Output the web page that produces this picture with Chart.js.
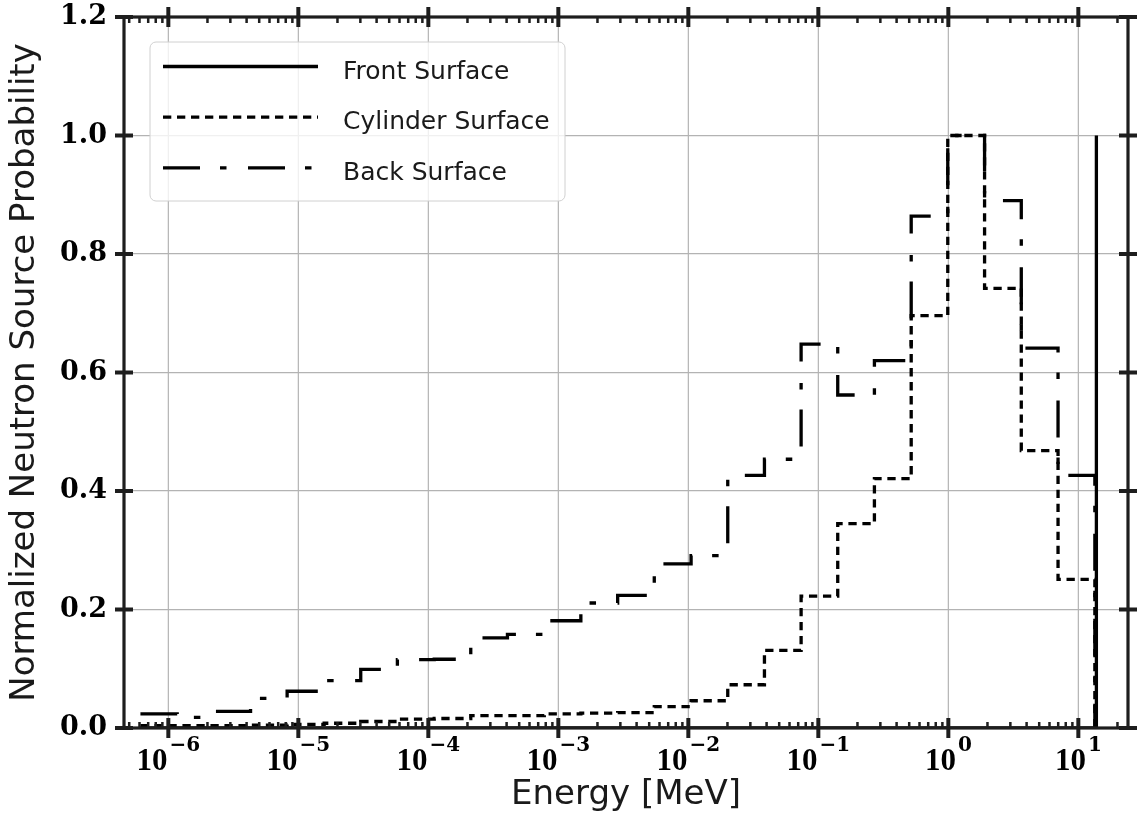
<!DOCTYPE html>
<html>
<head>
<meta charset="utf-8">
<title>Neutron source energy spectrum</title>
<script src="https://cdn.jsdelivr.net/npm/chart.js@4.4.1/dist/chart.umd.min.js"></script>
<style>
  body { margin: 0; background: #fff; }
  canvas { display: block; }
</style>
</head>
<body>
<canvas id="spectrum" width="1138" height="828"></canvas>
<script>
// energy group boundaries [MeV]
const binEdges = [6.1e-7, 1.17e-6, 2.24e-6, 4.29e-6, 8.2e-6, 1.58e-5, 3.02e-5, 5.78e-5,
  1.11e-4, 2.12e-4, 4.06e-4, 7.8e-4, 1.49e-3, 2.86e-3, 5.47e-3, 1.05e-2, 2.01e-2,
  3.85e-2, 7.37e-2, 0.141, 0.27, 0.518, 0.99, 1.9, 3.64, 6.98, 13.4];

// normalized source probability per group
const cylinderProb = [0.004, 0.004, 0.004, 0.005, 0.006, 0.008, 0.011, 0.015, 0.016,
  0.021, 0.021, 0.024, 0.025, 0.026, 0.036, 0.046, 0.073, 0.131, 0.2225, 0.345,
  0.421, 0.696, 1.0, 0.742, 0.468, 0.251];
const backProb = [0.024, 0.018, 0.028, 0.050, 0.062, 0.080, 0.099, 0.1155, 0.116,
  0.152, 0.158, 0.181, 0.211, 0.224, 0.277, 0.291, 0.4265, 0.4536, 0.648, 0.562,
  0.62, 0.864, 1.0, 0.89, 0.641, 0.4265];

// front surface only sees the 14 MeV source line
const frontEdges = [6.1e-7, 13.7, 13.8];
const frontProb = [0, 1.0];

// axis ticks
const xTickExponents = [-6, -5, -4, -3, -2, -1, 0, 1];
const yTickValues = [0, 0.2, 0.4, 0.6, 0.8, 1.0, 1.2];

const gridColor = '#b3b3b3';
const spineColor = '#1e1e1e';
const textColor = '#1a1a1a';

// step outline of a group-wise histogram, dropping to zero after the last group
function histLine(edges, probs) {
  const pts = [];
  probs.forEach((p, i) => {
    pts.push({ x: edges[i], y: p });
    pts.push({ x: edges[i + 1], y: p });
  });
  pts.push({ x: edges[edges.length - 1], y: 0 });
  return pts;
}

const series = [
  { label: 'Front Surface', data: histLine(frontEdges, frontProb), dash: [] },
  { label: 'Cylinder Surface', data: histLine(binEdges, cylinderProb), dash: [8.3, 5.7] },
  { label: 'Back Surface', data: histLine(binEdges, backProb), dash: [37, 20, 6.5, 21.5] }
];

function drawLegend(ctx, area) {
  const x0 = area.left + 26, y0 = area.top + 25, w = 415, h = 159;
  ctx.save();
  ctx.beginPath();
  ctx.roundRect(x0, y0, w, h, 6);
  ctx.fillStyle = 'rgba(255,255,255,0.8)';
  ctx.fill();
  ctx.lineWidth = 1;
  ctx.strokeStyle = '#d0d0d0';
  ctx.stroke();

  ctx.font = '25px "DejaVu Sans"';
  ctx.fillStyle = textColor;
  ctx.textBaseline = 'alphabetic';
  series.forEach((s, i) => {
    const ly = y0 + 24.5 + i * 50.7;
    ctx.beginPath();
    ctx.setLineDash(s.dash);
    ctx.lineWidth = 3.3;
    ctx.strokeStyle = '#000';
    ctx.moveTo(x0 + 13, ly);
    ctx.lineTo(x0 + 168, ly);
    ctx.stroke();
    ctx.setLineDash([]);
    ctx.fillText(s.label, x0 + 193, ly + 12);
  });
  ctx.restore();
}

const frame = {
  id: 'frame',
  beforeDatasetsDraw(chart) {
    const { ctx, chartArea: a, scales: { x } } = chart;
    ctx.save();
    ctx.strokeStyle = gridColor;
    ctx.lineWidth = 1.2;
    xTickExponents.forEach(e => {
      const px = x.getPixelForValue(Math.pow(10, e));
      ctx.beginPath();
      ctx.moveTo(px, a.top);
      ctx.lineTo(px, a.bottom);
      ctx.stroke();
    });
    ctx.restore();
  },
  afterDatasetsDraw(chart) {
    const { ctx, chartArea: a, scales: { x, y } } = chart;
    drawLegend(ctx, a);

    ctx.save();
    ctx.strokeStyle = spineColor;

    // minor x ticks, pointing inward on top and bottom
    ctx.lineWidth = 2.5;
    const lo = Math.floor(Math.log10(x.min)), hi = Math.floor(Math.log10(x.max));
    for (let e = lo; e <= hi; e++) {
      for (let m = 2; m <= 9; m++) {
        const v = m * Math.pow(10, e);
        if (v < x.min || v > x.max) continue;
        const px = x.getPixelForValue(v);
        ctx.beginPath();
        ctx.moveTo(px, a.bottom); ctx.lineTo(px, a.bottom - 6);
        ctx.moveTo(px, a.top); ctx.lineTo(px, a.top + 6);
        ctx.stroke();
      }
    }

    // spines
    ctx.lineWidth = 3.2;
    ctx.strokeRect(a.left, a.top, a.right - a.left, a.bottom - a.top);

    // major ticks straddle the spines
    ctx.lineWidth = 4;
    xTickExponents.forEach(e => {
      const px = x.getPixelForValue(Math.pow(10, e));
      ctx.beginPath();
      ctx.moveTo(px, a.bottom - 10); ctx.lineTo(px, a.bottom + 10);
      ctx.moveTo(px, a.top - 10); ctx.lineTo(px, a.top + 10);
      ctx.stroke();
    });
    yTickValues.forEach(v => {
      const py = y.getPixelForValue(v);
      ctx.beginPath();
      ctx.moveTo(a.left - 9, py); ctx.lineTo(a.left + 9, py);
      ctx.moveTo(a.right - 9, py); ctx.lineTo(a.right + 9, py);
      ctx.stroke();
    });

    // decade labels with raised exponents
    ctx.fillStyle = '#000';
    ctx.textBaseline = 'alphabetic';
    ctx.textAlign = 'left';
    const baseFont = 'bold 31px "Liberation Serif"';
    const expFont = 'bold 20px "DejaVu Serif"';
    xTickExponents.forEach(e => {
      const px = x.getPixelForValue(Math.pow(10, e));
      const expText = String(e).replace('-', '\u2212');
      ctx.font = baseFont;
      const bw = ctx.measureText('10').width;
      ctx.font = expFont;
      const ew = ctx.measureText(expText).width;
      const left = px - (bw + 2 + ew) / 2;
      ctx.font = baseFont;
      ctx.fillText('10', left, a.bottom + 42);
      ctx.font = expFont;
      ctx.fillText(expText, left + bw + 2, a.bottom + 23);
    });
    ctx.restore();
  }
};

new Chart(document.getElementById('spectrum'), {
  type: 'line',
  data: {
    datasets: series.map(s => ({
      label: s.label,
      data: s.data,
      borderColor: '#000',
      borderWidth: 3.3,
      borderDash: s.dash,
      borderCapStyle: 'butt',
      pointRadius: 0,
      tension: 0,
      fill: false
    }))
  },
  options: {
    responsive: false,
    animation: false,
    parsing: false,
    layout: { padding: { top: 17, right: 10, left: 0, bottom: 0 } },
    plugins: {
      legend: { display: false },
      tooltip: { enabled: false }
    },
    scales: {
      x: {
        type: 'logarithmic',
        min: 4.56e-7,
        max: 24.1,
        grid: { display: false },
        border: { display: false },
        ticks: { display: false },
        afterFit: (s) => {
          s.height = 100;
          s.paddingLeft = 0;
          s.paddingRight = 0;
        },
        title: {
          display: true,
          text: 'Energy [MeV]',
          color: textColor,
          font: { family: 'DejaVu Sans', size: 34 },
          padding: { top: 0, bottom: 12 }
        }
      },
      y: {
        min: 0,
        max: 1.2,
        afterBuildTicks: (s) => { s.ticks = yTickValues.map(v => ({ value: v })); },
        grid: { color: gridColor, lineWidth: 1.2, drawTicks: false },
        border: { display: false },
        ticks: {
          padding: 17,
          color: '#000',
          font: { family: 'DejaVu Serif', weight: 'bold', size: 27 },
          callback: (v) => v.toFixed(1)
        },
        // keep the tick labels from pushing the plot area down
        afterFit: (s) => {
          s.width = 124;
          s.paddingTop = 0;
          s.paddingBottom = 0;
        },
        title: {
          display: true,
          text: 'Normalized Neutron Source Probability',
          color: textColor,
          font: { family: 'DejaVu Sans', size: 34 },
          padding: { top: 5, bottom: 0 }
        }
      }
    }
  },
  plugins: [frame]
});
</script>
</body>
</html>
